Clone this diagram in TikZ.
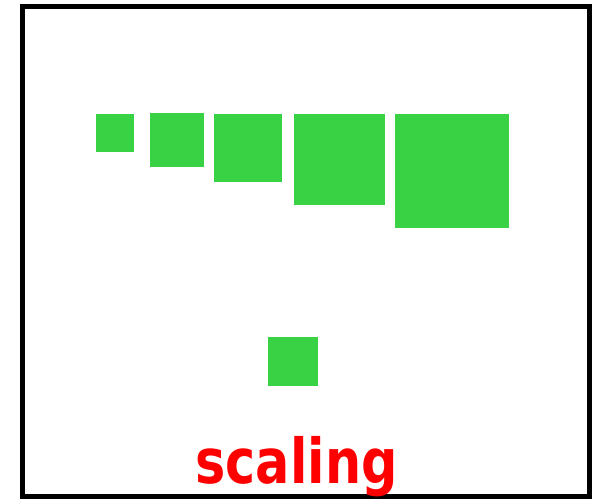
\documentclass[tikz,border=0pt]{standalone}
\usepackage{fontspec}
\usepackage{tikz}
\usetikzlibrary{positioning}
\usepackage{xcolor}
\definecolor{SquareGreen}{RGB}{57,210,68}
\definecolor{TitleRed}{RGB}{255,0,0}
\newfontfamily\titlefont{DejaVu Sans}

\begin{document}
\begin{tikzpicture}[x=1pt, y=-1pt,
    sq/.style={rectangle, fill=SquareGreen, inner sep=0pt, anchor=north west},
    frame/.style={draw=black, line width=5pt},
    title/.style={font=\titlefont\bfseries\fontsize{62}{62}\selectfont, text=TitleRed,
        inner sep=0pt, anchor=base, xscale=0.82},
]
\useasboundingbox (0,0) rectangle (593,498);
\draw[frame] (22.5,6.5) rectangle (589,496.5);

% row of growing squares
\node[sq, minimum width=38pt, minimum height=38pt] (s1) at (96,114) {};
\node[sq, minimum width=54pt, minimum height=54pt] (s2) at (150,113) {};
\node[sq, minimum width=68pt, minimum height=68pt] (s3) at (214,114) {};
\node[sq, minimum width=91pt, minimum height=91pt] (s4) at (294,114) {};
\node[sq, minimum width=114pt, minimum height=114pt] (s5) at (395,114) {};

% original square
\node[sq, minimum width=50pt, minimum height=49pt] (orig) at (268,337) {};

\node[title] (label) at (296.5,483) {scaling};
\end{tikzpicture}
\end{document}
